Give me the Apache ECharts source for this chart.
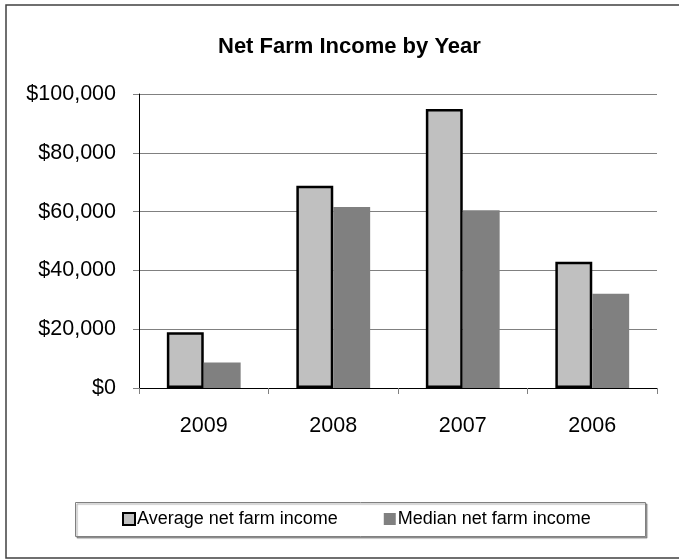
<!DOCTYPE html>
<html><head><meta charset="utf-8">
<script src="https://cdn.jsdelivr.net/npm/echarts@6/dist/echarts.min.js"></script>
<style>html,body{margin:0;padding:0;background:#fff}#c{width:679px;height:559px}</style>
</head><body><div id="c"></div>
<script>
var categories = ['2009', '2008', '2007', '2006'];
var averageIncome = [19000, 68800, 94900, 42900];
var medianIncome = [8700, 61600, 60500, 32100];
var seriesNames = ['Average net farm income', 'Median net farm income'];
var titleText = 'Net Farm Income by Year';

function money(v) {
  return '$' + String(v).replace(/\B(?=(\d{3})+(?!\d))/g, ',');
}

var chart = echarts.init(document.getElementById('c'), null, {renderer: 'canvas'});
var font = 'Liberation Sans, Arial, sans-serif';
chart.setOption({
  animation: false,
  backgroundColor: '#fff',
  textStyle: {fontFamily: font},
  title: {
    text: titleText, left: 213, top: 31,
    textStyle: {fontFamily: font, fontSize: 22, fontWeight: 'bold', color: '#000'}
  },
  graphic: [
    {type: 'rect', shape: {x: 6, y: 5, width: 720, height: 553},
     style: {fill: null, stroke: '#404040', lineWidth: 1.5}, z: 100},
    {type: 'rect', shape: {x: 75.5, y: 502.5, width: 570, height: 34},
     style: {fill: '#fff', stroke: '#808080', lineWidth: 1,
       shadowColor: 'rgba(0,0,0,0.35)', shadowOffsetX: 1.5, shadowOffsetY: 1.5, shadowBlur: 1}, z: 0}
  ],
  legend: {
    left: 122, top: 510, padding: 0, itemGap: 46,
    itemWidth: 12, itemHeight: 12, icon: 'rect',
    textStyle: {fontFamily: font, fontSize: 18, color: '#000', padding: [0,0,0,-3]},
    data: [
      {name: seriesNames[0], itemStyle: {color: '#C0C0C0', borderColor: '#000', borderWidth: 2}},
      {name: seriesNames[1], itemStyle: {color: '#808080'}}
    ],
    z: 10
  },
  grid: {left: 139, right: 22, top: 94, bottom: 171, containLabel: false},
  xAxis: {
    type: 'category', data: categories,
    axisLine: {lineStyle: {color: '#000', width: 1}},
    axisTick: {show: true, length: 6, lineStyle: {color: '#808080'}},
    axisLabel: {fontFamily: font, fontSize: 21.5, color: '#000', margin: 27}
  },
  yAxis: {
    type: 'value', min: 0, max: 100000, interval: 20000,
    axisLine: {show: true, lineStyle: {color: '#000', width: 1}},
    axisTick: {show: true, length: 6, lineStyle: {color: '#808080'}},
    axisLabel: {fontFamily: font, fontSize: 21.5, color: '#000', margin: 23, formatter: money},
    splitLine: {lineStyle: {color: '#808080', width: 1}}
  },
  series: [
    {name: seriesNames[0], type: 'bar', data: averageIncome, barGap: '0%', barCategoryGap: '43%',
     itemStyle: {color: '#C0C0C0', borderColor: '#000', borderWidth: 2.5}},
    {name: seriesNames[1], type: 'bar', data: medianIncome,
     itemStyle: {color: '#808080'}}
  ]
});
</script></body></html>
